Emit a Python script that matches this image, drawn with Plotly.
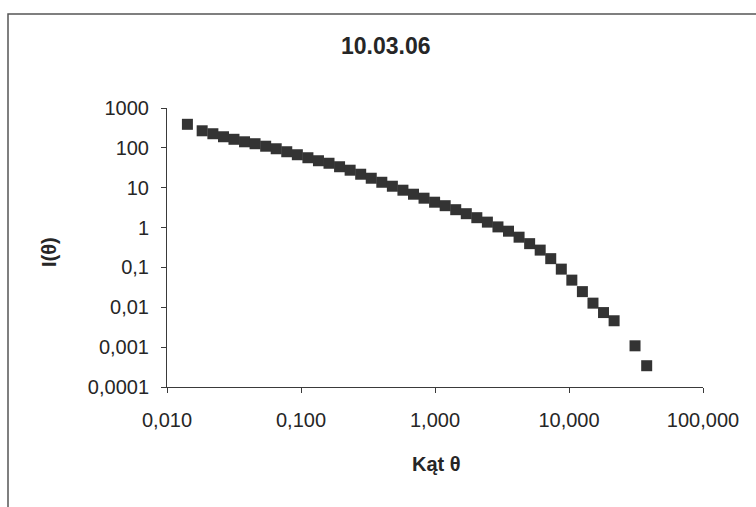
import plotly.graph_objects as go

# Scattering intensity I(theta) versus angle theta (log-log)
angle = [0.0142, 0.0183, 0.0220, 0.0264, 0.0316, 0.0379, 0.0454, 0.0545, 0.0653,
         0.0783, 0.0939, 0.1126, 0.1350, 0.1618, 0.1940, 0.2326, 0.2789, 0.3344,
         0.4009, 0.4807, 0.5763, 0.6909, 0.8283, 0.9931, 1.191, 1.428, 1.712,
         2.052, 2.460, 2.950, 3.537, 4.240, 5.084, 6.095, 7.307, 8.762, 10.50,
         12.59, 15.10, 18.10, 21.71, 31.1, 38.0]
intensity = [390, 268, 226, 190, 164, 142, 127, 110, 94.9, 79.9, 67.2, 56.5, 47.5,
             41.1, 33.6, 27.5, 21.8, 17.3, 13.7, 10.9, 8.66, 6.87, 5.46, 4.33, 3.54,
             2.81, 2.23, 1.77, 1.37, 1.04, 0.812, 0.574, 0.395, 0.272, 0.166,
             0.0907, 0.0480, 0.0247, 0.0127, 0.00737, 0.00459, 0.00108, 0.000342]

x_tickvals = [0.01, 0.1, 1, 10, 100]
x_ticktext = ["0,010", "0,100", "1,000", "10,000", "100,000"]
y_tickvals = [0.0001, 0.001, 0.01, 0.1, 1, 10, 100, 1000]
y_ticktext = ["0,0001", "0,001", "0,01", "0,1", "1", "10", "100", "1000"]

FONT = "Liberation Sans, Arial, sans-serif"
INK = "#262626"

fig = go.Figure(
    go.Scatter(
        x=angle, y=intensity, mode="markers",
        marker=dict(symbol="square", size=11, color="#333333", line=dict(width=0)),
        showlegend=False,
    )
)

# plot area spans px 167..703 horizontally, 107.7..387 vertically
L, R, T, B = 167, 53, 108, 120
W, H = 756, 507
pw, ph = W - L - R, H - T - B

def px(xp):
    return (xp - L) / pw

def py(yp):
    return (H - B - yp) / ph

fig.update_layout(
    width=W, height=H,
    margin=dict(l=L, r=R, t=T, b=B),
    paper_bgcolor="white", plot_bgcolor="white",
    font=dict(family=FONT, size=20, color=INK),
    xaxis=dict(
        type="log", range=[-2, 2],
        tickvals=x_tickvals, ticktext=x_ticktext,
        showgrid=False, zeroline=False,
        showline=True, linecolor="#3a3a3a", linewidth=1,
        ticks="outside", ticklen=5, tickcolor="#3a3a3a", tickwidth=1,
        ticklabelstandoff=10,
    ),
    yaxis=dict(
        type="log", range=[-4, 3],
        tickvals=y_tickvals, ticktext=y_ticktext,
        showgrid=False, zeroline=False,
        showline=True, linecolor="#3a3a3a", linewidth=1,
        ticks="outside", ticklen=5, tickcolor="#3a3a3a", tickwidth=1,
        ticklabelstandoff=8,
    ),
    annotations=[
        dict(text="<b>10.03.06</b>", xref="paper", yref="paper",
             x=px(386), y=py(46), xanchor="center", yanchor="middle",
             showarrow=False, font=dict(size=23, family=FONT, color=INK)),
        dict(text="<b>I(θ)</b>", xref="paper", yref="paper",
             x=px(49), y=py(252), xanchor="center", yanchor="middle",
             textangle=-90, showarrow=False,
             font=dict(size=20, family=FONT, color=INK)),
        dict(text="<b>Kąt θ</b>", xref="paper", yref="paper",
             x=px(436), y=py(464), xanchor="center", yanchor="middle",
             showarrow=False, font=dict(size=20, family=FONT, color=INK)),
    ],
    shapes=[
        # chart frame (right and bottom edges fall outside the page)
        dict(type="rect", xref="paper", yref="paper",
             x0=px(8), x1=px(770), y0=py(520), y1=py(14),
             line=dict(color="#555555", width=1.5), fillcolor="rgba(0,0,0,0)",
             layer="below"),
    ],
)

fig.write_html("out.html")
